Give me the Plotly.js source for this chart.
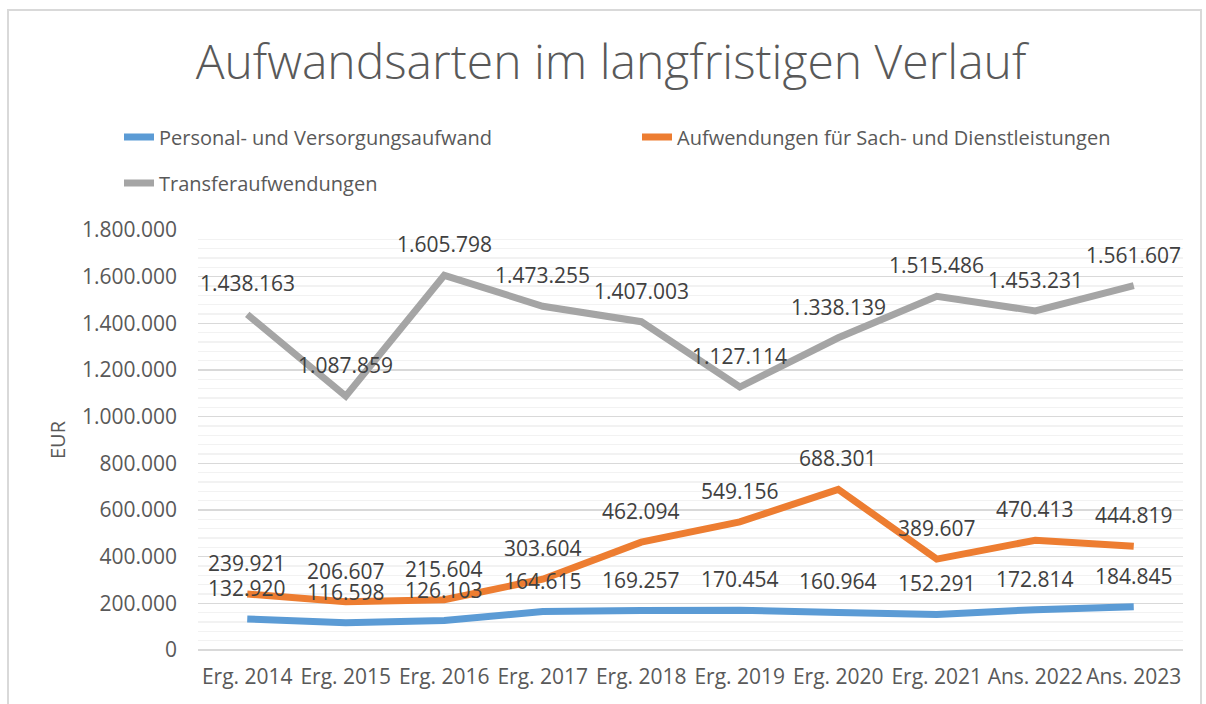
<!DOCTYPE html>
<html>
<head>
<meta charset="utf-8">
<script src="https://cdn.plot.ly/plotly-3.0.1.min.js"></script>
<style>
html,body{margin:0;padding:0;background:#fff;}
#wrap{position:relative;width:1206px;height:704px;overflow:hidden;}
#chart{position:absolute;left:0;top:0;width:1206px;height:704px;}
#frame{position:absolute;left:7px;top:9px;width:1191px;height:720px;border:2px solid #D9D9D9;pointer-events:none;}
</style>
</head>
<body>
<div id="wrap"><div id="chart"></div><div id="frame"></div></div>
<script>
const categories = ["Erg. 2014","Erg. 2015","Erg. 2016","Erg. 2017","Erg. 2018","Erg. 2019","Erg. 2020","Erg. 2021","Ans. 2022","Ans. 2023"];
const personal = [132920,116598,126103,164615,169257,170454,160964,152291,172814,184845];
const sach = [239921,206607,215604,303604,462094,549156,688301,389607,470413,444819];
const transfer = [1438163,1087859,1605798,1473255,1407003,1127114,1338139,1515486,1453231,1561607];
const seriesNames = ["Personal- und Versorgungsaufwand","Aufwendungen für Sach- und Dienstleistungen","Transferaufwendungen"];
const yTitle = "EUR";
const chartTitle = "Aufwandsarten im langfristigen Verlauf";

const FONT = "'Open Sans', 'Noto Sans', sans-serif";
const colors = ["#5B9BD5","#ED7D31","#A5A5A5"];
const W = 1206, H = 704;

function fmt(v){ return String(Math.round(v)).replace(/\B(?=(\d{3})+(?!\d))/g, "."); }

const seriesVals = [personal, sach, transfer];
const legendIds = ["legend","legend2","legend3"];
const traces = seriesVals.map((vals, k) => ({
  type: "scatter", mode: "lines", x: categories, y: vals, name: seriesNames[k],
  line: {color: colors[k], width: 7}, legend: legendIds[k], hoverinfo: "skip"
}));

const annotations = [];
seriesVals.forEach((vals) => {
  vals.forEach((v, i) => {
    annotations.push({x: categories[i], y: v, xref: "x", yref: "y", text: fmt(v), showarrow: false,
      yshift: 31, font: {family: FONT, size: 21, color: "#404040"}});
  });
});
// y-axis title
annotations.push({xref: "paper", yref: "paper", x: 0, y: 0.5, xshift: -141, text: yTitle, textangle: -90,
  showarrow: false, xanchor: "center", yanchor: "middle", font: {family: FONT, size: 20, color: "#595959"}});

function leg(xpx, ypx){
  return {xref: "container", yref: "container", x: xpx / W, y: 1 - ypx / H, xanchor: "left", yanchor: "middle",
    bgcolor: "rgba(0,0,0,0)", font: {family: FONT, size: 20, color: "#595959"}, itemwidth: 30};
}

const layout = {
  width: W, height: H,
  margin: {l: 198, r: 23, t: 230, b: 54, autoexpand: false},
  paper_bgcolor: "rgba(0,0,0,0)", plot_bgcolor: "rgba(0,0,0,0)",
  separators: ",.",
  title: {text: chartTitle, xref: "container", x: 611 / W, xanchor: "center", yref: "container", y: 1 - 62 / H, yanchor: "middle",
    font: {family: FONT, size: 48, weight: 300, color: "#595959"}},
  showlegend: true,
  legend: leg(119, 137),
  legend2: leg(637, 137),
  legend3: leg(119, 183),
  xaxis: {type: "category", range: [-0.5, 9.5], showgrid: false, zeroline: false, showline: false, automargin: false,
    ticks: "", ticklabelstandoff: 12, tickangle: 0, tickfont: {family: FONT, size: 21, color: "#595959"}, fixedrange: true},
  yaxis: {range: [0, 1800000], dtick: 200000, tick0: 0, tickformat: ",d", showline: false, automargin: false,
    gridcolor: "#D9D9D9", gridwidth: 1.5, zeroline: true, zerolinecolor: "#D9D9D9", zerolinewidth: 1.5,
    minor: {dtick: 40000, tick0: 0, showgrid: true, gridcolor: "#F2F2F2", gridwidth: 1.5},
    ticks: "", ticklabelstandoff: 20, tickfont: {family: FONT, size: 21, color: "#595959"}, fixedrange: true},
  annotations: annotations
};

Plotly.newPlot("chart", traces, layout, {displayModeBar: false, staticPlot: true});
</script>
</body>
</html>
